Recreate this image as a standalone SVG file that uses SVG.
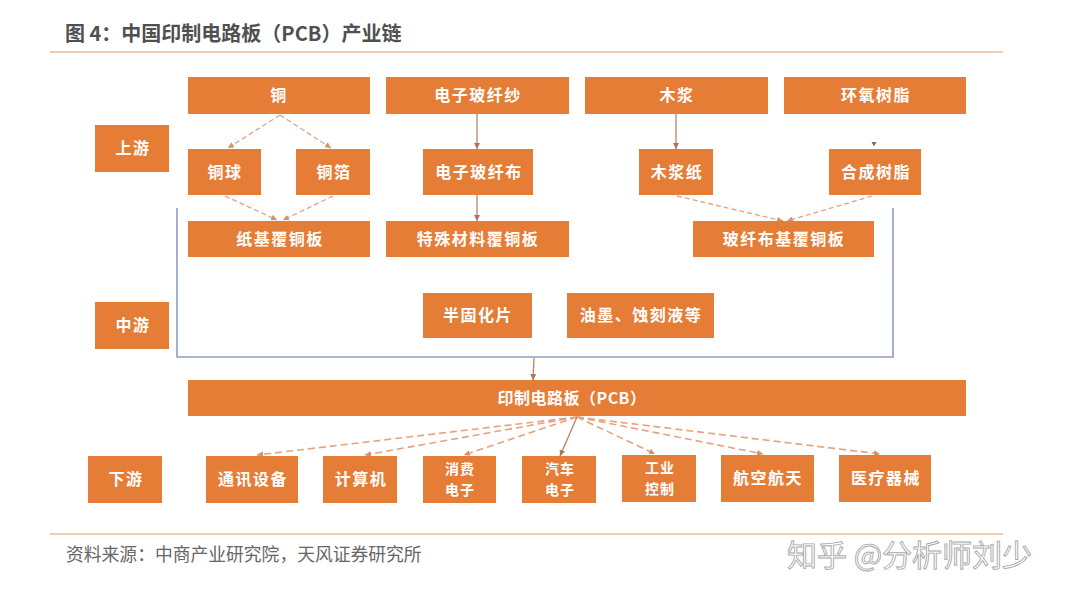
<svg xmlns="http://www.w3.org/2000/svg" width="1076" height="600" viewBox="0 0 1076 600">
<style>
.box{fill:#E57D37;}
.lbl{font-family:"Noto Sans CJK SC","Noto Sans",sans-serif;font-size:16px;font-weight:700;fill:#FFFFFF;text-anchor:middle;letter-spacing:1.5px;}
.two{font-size:14px;letter-spacing:1px;}
.rule{stroke:#F1CDAE;stroke-width:2;fill:none;}
.dash{stroke:#E6A27C;stroke-width:1.3;stroke-dasharray:5,3;fill:none;marker-end:url(#ad);}
.fan{stroke:#E6A27C;stroke-width:1.6;stroke-dasharray:7,4;fill:none;marker-end:url(#ad);}
.solid{stroke:#B9826A;stroke-width:1.3;fill:none;marker-end:url(#as);}
.brk{stroke:#8E9CC6;stroke-width:1.6;fill:none;}
</style>
<defs>
<marker id="ad" viewBox="0 0 6 6" refX="6" refY="3" markerWidth="6" markerHeight="6" markerUnits="userSpaceOnUse" orient="auto"><path d="M0,0 L6,3 L0,6 z" fill="#D98F68"/></marker>
<marker id="as" viewBox="0 0 6 6" refX="6" refY="3" markerWidth="6" markerHeight="6" markerUnits="userSpaceOnUse" orient="auto"><path d="M0,0 L6,3 L0,6 z" fill="#A8755F"/></marker>
</defs>
<rect width="1076" height="600" fill="#FFFFFF"/>
<text x="65" y="41" font-family="'Noto Sans CJK SC','Noto Sans',sans-serif" font-size="20" font-weight="700" fill="#505050">图 4：中国印制电路板（PCB）产业链</text>
<line class="rule" x1="50" y1="52" x2="1003" y2="52"/>
<line class="rule" x1="50" y1="534" x2="1003" y2="534"/>
<text x="66" y="561" font-family="'Noto Sans CJK SC','Noto Sans',sans-serif" font-size="17.8" fill="#666666">资料来源：中商产业研究院，天风证券研究所</text>

<g id="connectors">
<path class="brk" d="M177,208 L177,357 L893,357 L893,208"/>
<path class="dash" d="M280,115 L228,148"/>
<path class="dash" d="M280,115 L331,148"/>
<path class="dash" d="M225,196 L277,220"/>
<path class="dash" d="M333,196 L283,220"/>
<path class="dash" d="M677,196 L783,221"/>
<path class="dash" d="M872,196 L787,221"/>
<path class="solid" d="M477,114 L477,149"/>
<path class="solid" d="M477,195 L477,221"/>
<path class="solid" d="M676,114 L676,149"/>
<path class="solid" d="M534,358 L533,380"/>
<path d="M871.5,142 L876.5,142 L874,146.5 z" fill="#7A6A66"/>
<path class="fan" d="M577,417 L257,455"/>
<path class="fan" d="M577,417 L365,455"/>
<path class="fan" d="M577,417 L464,455"/>
<path class="solid" d="M577,417 L560,456"/>
<path class="fan" d="M577,417 L655,454"/>
<path class="fan" d="M577,417 L763,454"/>
<path class="fan" d="M577,417 L880,454"/>
</g>

<g id="n-tong"><rect class="box" x="188" y="77" width="182" height="37"/><text class="lbl" x="279" y="101">铜</text></g>
<g id="n-sha"><rect class="box" x="386" y="77" width="183" height="37"/><text class="lbl" x="478" y="101">电子玻纤纱</text></g>
<g id="n-mujiang"><rect class="box" x="585" y="77" width="183" height="37"/><text class="lbl" x="677" y="101">木浆</text></g>
<g id="n-huanyang"><rect class="box" x="784" y="77" width="182" height="37"/><text class="lbl" x="876" y="101">环氧树脂</text></g>
<g id="n-shangyou"><rect class="box" x="95" y="125" width="74" height="47"/><text class="lbl" x="133" y="154">上游</text></g>
<g id="n-tongqiu"><rect class="box" x="188" y="149" width="73" height="46"/><text class="lbl" x="225" y="178">铜球</text></g>
<g id="n-tongbo"><rect class="box" x="296" y="149" width="74" height="46"/><text class="lbl" x="334" y="178">铜箔</text></g>
<g id="n-bu"><rect class="box" x="423" y="149" width="110" height="46"/><text class="lbl" x="479" y="178">电子玻纤布</text></g>
<g id="n-mujiangzhi"><rect class="box" x="639" y="149" width="74" height="46"/><text class="lbl" x="677" y="178">木浆纸</text></g>
<g id="n-hecheng"><rect class="box" x="829" y="149" width="92" height="46"/><text class="lbl" x="876" y="178">合成树脂</text></g>
<g id="n-zhiji"><rect class="box" x="188" y="221" width="182" height="36"/><text class="lbl" x="280" y="245">纸基覆铜板</text></g>
<g id="n-teshu"><rect class="box" x="386" y="221" width="183" height="36"/><text class="lbl" x="478" y="245">特殊材料覆铜板</text></g>
<g id="n-boxian"><rect class="box" x="693" y="221" width="181" height="36"/><text class="lbl" x="784" y="245">玻纤布基覆铜板</text></g>
<g id="n-zhongyou"><rect class="box" x="95" y="302" width="74" height="47"/><text class="lbl" x="133" y="331">中游</text></g>
<g id="n-bangu"><rect class="box" x="423" y="293" width="109" height="45"/><text class="lbl" x="478" y="321">半固化片</text></g>
<g id="n-youmo"><rect class="box" x="567" y="293" width="147" height="45"/><text class="lbl" x="641" y="321">油墨、蚀刻液等</text></g>
<g id="n-pcb"><rect class="box" x="188" y="380" width="778" height="36"/><text class="lbl" x="572" y="404" style="letter-spacing:0.5px">印制电路板（PCB）</text></g>
<g id="n-xiayou"><rect class="box" x="88" y="456" width="74" height="47"/><text class="lbl" x="126" y="485">下游</text></g>
<g id="n-tongxun"><rect class="box" x="206" y="456" width="92" height="47"/><text class="lbl" x="253" y="485">通讯设备</text></g>
<g id="n-jisuanji"><rect class="box" x="323" y="456" width="74" height="47"/><text class="lbl" x="361" y="485">计算机</text></g>
<g id="n-xiaofei"><rect class="box" x="423" y="456" width="73" height="47"/><text class="lbl two" x="460" y="474">消费</text><text class="lbl two" x="460" y="495">电子</text></g>
<g id="n-qiche"><rect class="box" x="522" y="456" width="74" height="47"/><text class="lbl two" x="560" y="474">汽车</text><text class="lbl two" x="560" y="495">电子</text></g>
<g id="n-gongye"><rect class="box" x="622" y="455" width="74" height="47"/><text class="lbl two" x="660" y="473">工业</text><text class="lbl two" x="660" y="494">控制</text></g>
<g id="n-hangkong"><rect class="box" x="721" y="455" width="93" height="47"/><text class="lbl" x="768" y="484">航空航天</text></g>
<g id="n-yiliao"><rect class="box" x="839" y="455" width="92" height="47"/><text class="lbl" x="886" y="484">医疗器械</text></g>

<text x="787" y="566" font-family="'Noto Sans CJK SC','Noto Sans',sans-serif" font-size="30" fill="#FFFFFF" stroke="#A8A8A8" stroke-width="0.9">知乎 @分析师刘少</text>
</svg>
